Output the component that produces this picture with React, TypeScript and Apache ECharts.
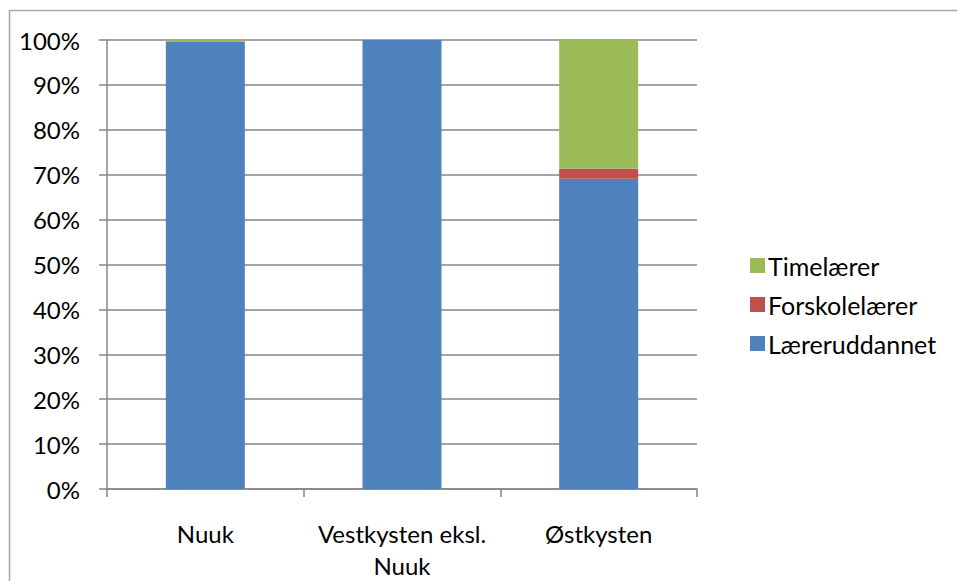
import React, { useEffect, useRef } from "react";
import * as echarts from "echarts";

const categories = ["Nuuk", "Vestkysten eksl.\nNuuk", "Østkysten"];
const laereruddannet = [99.6, 100, 69.1];
const forskolelaerer = [0.1, 0, 2.2];
const timelaerer = [0.3, 0, 28.7];
const legendOrder = ["Timelærer", "Forskolelærer", "Læreruddannet"];

const FONT = "Lato";
const GRAY = "#868686";
const FS = 24;

export default function App() {
  const ref = useRef<HTMLDivElement>(null);
  useEffect(() => {
    document.body.style.margin = "0";
    const chart = echarts.init(ref.current!, null, { renderer: "svg" });
    const mk = (name: string, data: number[], color: string) => ({
      name,
      type: "bar",
      stack: "total",
      data,
      barWidth: 79,
      itemStyle: { color },
    });
    chart.setOption({
      animation: false,
      backgroundColor: "#fff",
      textStyle: { fontFamily: FONT },
      graphic: [
        {
          type: "rect",
          shape: { x: 9.5, y: 10.5, width: 1000, height: 700 },
          style: { fill: "none", stroke: "#a6a6a6", lineWidth: 1.5 },
          silent: true,
          z: -1,
        },
      ],
      grid: { left: 107, right: 260, top: 40, bottom: 91, containLabel: false },
      legend: {
        orient: "vertical",
        left: 745,
        top: 248,
        itemWidth: 15,
        itemHeight: 15,
        itemGap: 14,
        icon: "rect",
        data: legendOrder,
        textStyle: { fontFamily: FONT, fontSize: 25, color: "#000", padding: [0, 0, 0, -2] },
      },
      xAxis: {
        type: "category",
        data: categories,
        axisLine: { lineStyle: { color: GRAY, width: 1.5 } },
        axisTick: { show: true, length: 8, lineStyle: { color: GRAY, width: 1.5 } },
        axisLabel: {
          fontFamily: FONT,
          fontSize: FS,
          color: "#000",
          margin: 28,
          lineHeight: 32,
          interval: 0,
        },
      },
      yAxis: {
        type: "value",
        min: 0,
        max: 100,
        interval: 10,
        axisLine: { show: true, lineStyle: { color: GRAY, width: 1.5 } },
        axisTick: { show: true, length: 8, lineStyle: { color: GRAY, width: 1.5 } },
        splitLine: { show: true, lineStyle: { color: GRAY, width: 1.5 } },
        axisLabel: {
          fontFamily: FONT,
          fontSize: FS,
          color: "#000",
          margin: 27,
          formatter: (v: number) => v + "%",
        },
      },
      series: [
        mk("Læreruddannet", laereruddannet, "#4F81BD"),
        mk("Forskolelærer", forskolelaerer, "#C0504D"),
        mk("Timelærer", timelaerer, "#9BBB59"),
      ],
    });
    return () => chart.dispose();
  }, []);
  return <div ref={ref} style={{ width: 957, height: 581 }} />;
}
